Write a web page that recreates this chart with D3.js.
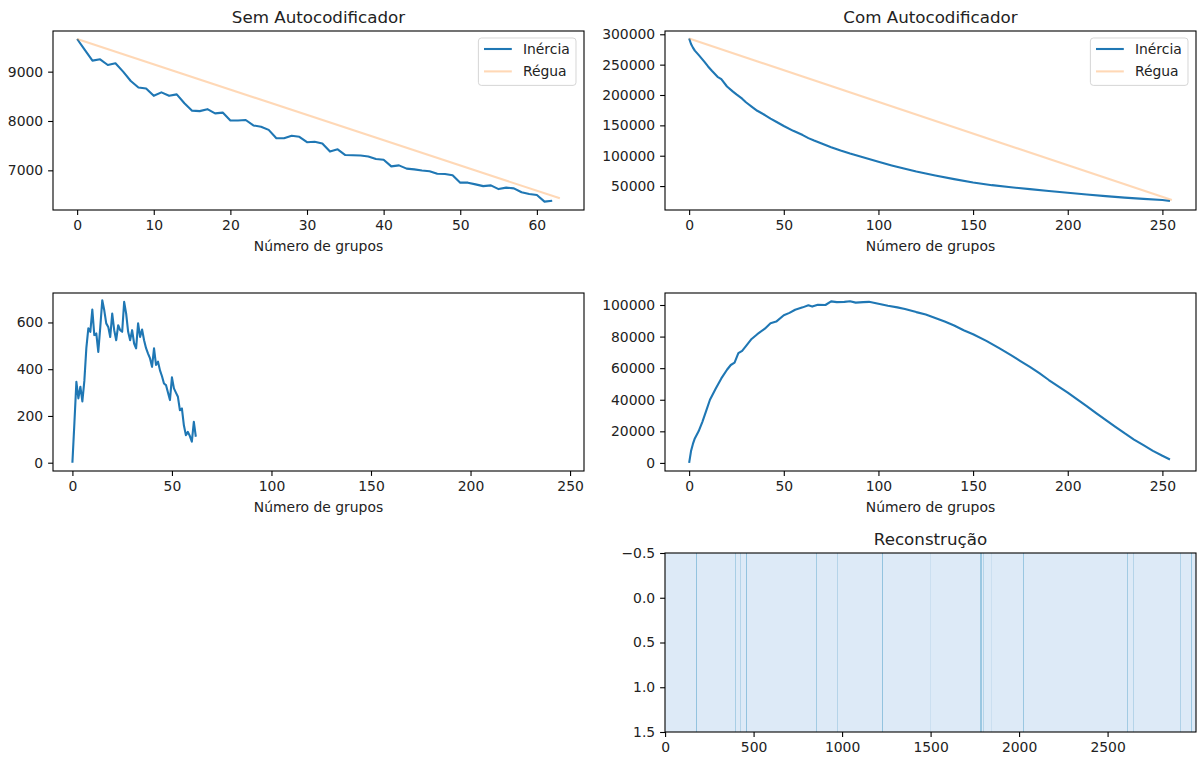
<!DOCTYPE html>
<html>
<head>
<meta charset="utf-8">
<script src="https://cdn.jsdelivr.net/npm/d3@7"></script>
<style>
  body { margin: 0; background: #fff; }
  svg text { font-family: "DejaVu Sans", sans-serif; fill: #222; }
</style>
</head>
<body>
<div id="chart"></div>
<script>
// ---- data ----
// sem autocodificador: inercia por numero de grupos (indice = numero de grupos)
const semInercia = [9662, 9440, 9223, 9250, 9135, 9170, 9000, 8810, 8680, 8660,
  8510, 8580, 8510, 8540, 8360, 8210, 8200, 8240, 8155, 8170,
  8010, 8010, 8020, 7910, 7885, 7820, 7650, 7650, 7700, 7680,
  7570, 7580, 7545, 7380, 7425, 7310, 7305, 7300, 7280, 7230,
  7215, 7080, 7100, 7035, 7020, 6995, 6980, 6930, 6925, 6900,
  6750, 6750, 6715, 6680, 6695, 6620, 6650, 6635, 6555, 6520,
  6500, 6365, 6385];
const semReguaX = [0, 63];
const semRegua = [9662, 6432];
// diferenca regua - inercia (sem autocodificador)
const semDif = [0, 170, 346, 275, 325, 262, 350, 490, 575, 560,
  655, 546, 553, 474, 580, 695, 652, 596, 581, 538,
  638, 567, 524, 588, 567, 560, 688, 638, 560, 524,
  567, 510, 489, 596, 538, 570, 524, 490, 467, 446,
  410, 489, 418, 432, 395, 370, 339, 332, 300, 268,
  365, 318, 300, 282, 225, 232, 160, 118, 132, 114,
  90, 175, 111];

// com autocodificador
const comX = [0, 1, 2, 3, 5, 8, 10, 12, 15, 17, 20, 23, 25, 28, 30, 33, 36, 40, 43, 46,
  50, 55, 60, 63, 66, 70, 75, 80, 85, 90, 95, 100, 107, 114, 120, 130, 140, 150,
  160, 170, 180, 190, 200, 210, 220, 230, 240, 250, 254];
const comInercia = [293000, 284000, 278000, 273000, 266000, 255000, 247000, 240000, 230000, 226000,
  214000, 206000, 201000, 194000, 188000, 181000, 174000, 167000, 161000, 156000,
  149000, 141000, 134000, 129000, 125000, 120000, 114000, 108500, 103500, 99000,
  94500, 90000, 84000, 78500, 74000, 67500, 61500, 56000, 51500, 48000,
  45000, 42000, 39000, 36000, 33500, 31000, 29000, 27000, 25500];
const comReguaX = [0, 255];
const comRegua = [293000, 27000];
const comDifX = [0, 1, 2, 3, 5, 7, 9, 11, 14, 17, 20, 22, 24, 26, 28, 30, 33, 36, 40, 43,
  46, 50, 53, 56, 60, 63, 65, 68, 72, 75, 78, 82, 85, 88, 92, 95, 100, 105, 110, 114,
  120, 125, 130, 135, 140, 145, 150, 157, 164, 170, 175, 180, 185, 190, 195, 200,
  205, 210, 215, 220, 225, 230, 235, 240, 245, 250, 254];
const comDif = [0, 7500, 12000, 15500, 20000, 26000, 33000, 40000, 47000, 53500,
  59000, 62000, 63500, 69500, 71000, 74000, 78500, 81500, 85000, 88500,
  89500, 93500, 95000, 97000, 98500, 99800, 99000, 100200, 100000, 102300,
  101800, 102000, 102400, 101500, 101800, 102000, 100800, 99500, 98500, 97500,
  95500, 94000, 91800, 89500, 87000, 84000, 81500, 77300, 72500, 68200,
  64500, 60800, 56800, 52500, 48500, 44500, 40200, 36000, 31500, 27200,
  23000, 18800, 14800, 11200, 7600, 4500, 2200];

// reconstrucao: 2 linhas x 3000 colunas, fundo quase uniforme com algumas faixas
const reconRows = [0, 1];
const reconN = 3000;
const reconBase = 0.13;
const reconStart = [175, 398, 422, 459, 852, 973, 1225, 1498, 1782, 1798, 1843, 2022, 2612, 2642, 2912, 2972];
const reconEnd   = [180, 402, 427, 464, 857, 977, 1230, 1502, 1788, 1802, 1847, 2027, 2617, 2647, 2917, 2977];
const reconVals  = [0.4, 0.34, 0.3, 0.4, 0.36, 0.3, 0.4, 0.22, 0.38, 0.3, 0.22, 0.38, 0.36, 0.3, 0.32, 0.38];

// ---- drawing ----
const W = 1199, H = 758;
const FS = 13.9;
const blue = "#1f77b4", orange = "#ff7f0e";

const svg = d3.select("#chart").append("svg")
  .attr("width", W).attr("height", H);
svg.append("rect").attr("width", W).attr("height", H).attr("fill", "#fff");

function makeAxes(box, xd, yd, xt, yt, yfmt) {
  const x = d3.scaleLinear().domain(xd).range([box.l, box.r]);
  const y = d3.scaleLinear().domain(yd).range([box.b, box.t]);
  const g = svg.append("g");
  const plot = g.append("g");

  const ax = g.append("g")
    .attr("transform", "translate(0," + box.b + ")")
    .call(d3.axisBottom(x).tickValues(xt).tickSize(4.9).tickPadding(4.9).tickSizeOuter(0)
      .tickFormat(d => String(d)));
  const ay = g.append("g")
    .attr("transform", "translate(" + box.l + ",0)")
    .call(d3.axisLeft(y).tickValues(yt).tickSize(4.9).tickPadding(4.9).tickSizeOuter(0)
      .tickFormat(yfmt || (d => String(d))));
  [ax, ay].forEach(a => {
    a.select(".domain").remove();
    a.selectAll("line").attr("stroke", "#000").attr("stroke-width", 1.1);
    a.selectAll("text").style("font-size", FS + "px").attr("fill", "#222");
  });

  g.append("rect")
    .attr("x", box.l).attr("y", box.t)
    .attr("width", box.r - box.l).attr("height", box.b - box.t)
    .attr("fill", "none").attr("stroke", "#000").attr("stroke-width", 1.1);

  return { x, y, plot, g };
}

function drawLine(a, xs, ys, color, opacity) {
  const line = d3.line().x((d, i) => a.x(xs[i])).y(d => a.y(d));
  a.plot.append("path")
    .datum(ys)
    .attr("d", line)
    .attr("fill", "none")
    .attr("stroke", color)
    .attr("stroke-opacity", opacity)
    .attr("stroke-width", 2.1)
    .attr("stroke-linejoin", "round");
}

function title(box, text) {
  svg.append("text")
    .attr("x", (box.l + box.r) / 2).attr("y", box.t - 8.5)
    .attr("text-anchor", "middle")
    .style("font-size", "16.7px")
    .text(text);
}

function xlabel(box, text) {
  svg.append("text")
    .attr("x", (box.l + box.r) / 2).attr("y", box.b + 41)
    .attr("text-anchor", "middle")
    .style("font-size", FS + "px")
    .text(text);
}

function legend(box) {
  const w = 97.6, h = 47.4;
  const lx = box.r - 8 - w, ly = box.t + 7;
  const lg = svg.append("g");
  lg.append("rect")
    .attr("x", lx).attr("y", ly).attr("width", w).attr("height", h)
    .attr("rx", 3).attr("fill", "#fff").attr("fill-opacity", 0.8)
    .attr("stroke", "#cccccc").attr("stroke-opacity", 0.8).attr("stroke-width", 1);
  const items = [["Inércia", blue, 1], ["Régua", orange, 0.3]];
  items.forEach((it, i) => {
    const cy = ly + 11 + i * 22.4;
    lg.append("line")
      .attr("x1", lx + 5.6).attr("x2", lx + 33.4)
      .attr("y1", cy).attr("y2", cy)
      .attr("stroke", it[1]).attr("stroke-opacity", it[2]).attr("stroke-width", 2.1);
    lg.append("text")
      .attr("x", lx + 44.5).attr("y", cy).attr("dy", "0.36em")
      .style("font-size", FS + "px")
      .text(it[0]);
  });
}

const xLab = "Número de grupos";

// painel 1: sem autocodificador
const b1 = { l: 53, r: 584, t: 31, b: 210 };
const a1 = makeAxes(b1, [-3.15, 66.15], [6196, 9824],
  [0, 10, 20, 30, 40, 50, 60], [7000, 8000, 9000]);
drawLine(a1, semInercia.map((d, i) => i), semInercia, blue, 1);
drawLine(a1, semReguaX, semRegua, orange, 0.3);
title(b1, "Sem Autocodificador");
xlabel(b1, xLab);
legend(b1);

// painel 2: com autocodificador
const b2 = { l: 665, r: 1196, t: 31, b: 210 };
const a2 = makeAxes(b2, [-12.75, 267.75], [10600, 305400],
  [0, 50, 100, 150, 200, 250], [50000, 100000, 150000, 200000, 250000, 300000]);
drawLine(a2, comX, comInercia, blue, 1);
drawLine(a2, comReguaX, comRegua, orange, 0.3);
title(b2, "Com Autocodificador");
xlabel(b2, xLab);
legend(b2);

// painel 3: diferenca sem autocodificador
const b3 = { l: 53, r: 584, t: 293, b: 471 };
const a3 = makeAxes(b3, [-9.75, 257], [-35.5, 726],
  [0, 50, 100, 150, 200, 250], [0, 200, 400, 600]);
drawLine(a3, semDif.map((d, i) => i), semDif, blue, 1);
xlabel(b3, xLab);

// painel 4: diferenca com autocodificador
const b4 = { l: 665, r: 1196, t: 293, b: 471 };
const a4 = makeAxes(b4, [-12.75, 267.75], [-5125, 107600],
  [0, 50, 100, 150, 200, 250], [0, 20000, 40000, 60000, 80000, 100000]);
drawLine(a4, comDifX, comDif, blue, 1);
xlabel(b4, xLab);

// painel 5: reconstrucao
const b5 = { l: 665, r: 1196, t: 553, b: 732 };
const a5 = makeAxes(b5, [-0.5, reconN - 0.5], [1.5, -0.5],
  [0, 500, 1000, 1500, 2000, 2500], [-0.5, 0, 0.5, 1, 1.5],
  d => (d < 0 ? "\u2212" : "") + Math.abs(d).toFixed(1));
const color = d3.interpolateBlues;
reconRows.forEach(r => {
  a5.plot.append("rect")
    .attr("x", a5.x(-0.5)).attr("width", a5.x(reconN - 0.5) - a5.x(-0.5))
    .attr("y", a5.y(r - 0.5)).attr("height", a5.y(r + 0.5) - a5.y(r - 0.5))
    .attr("shape-rendering", "crispEdges")
    .attr("fill", color(reconBase));
  a5.plot.selectAll(null)
    .data(reconStart)
    .enter().append("rect")
    .attr("x", (d, i) => a5.x(d - 0.5))
    .attr("width", (d, i) => a5.x(reconEnd[i] + 0.5) - a5.x(d - 0.5))
    .attr("y", a5.y(r - 0.5)).attr("height", a5.y(r + 0.5) - a5.y(r - 0.5))
    .attr("shape-rendering", "crispEdges")
    .attr("fill", (d, i) => color(reconVals[i]));
});
title(b5, "Reconstrução");
</script>
</body>
</html>
